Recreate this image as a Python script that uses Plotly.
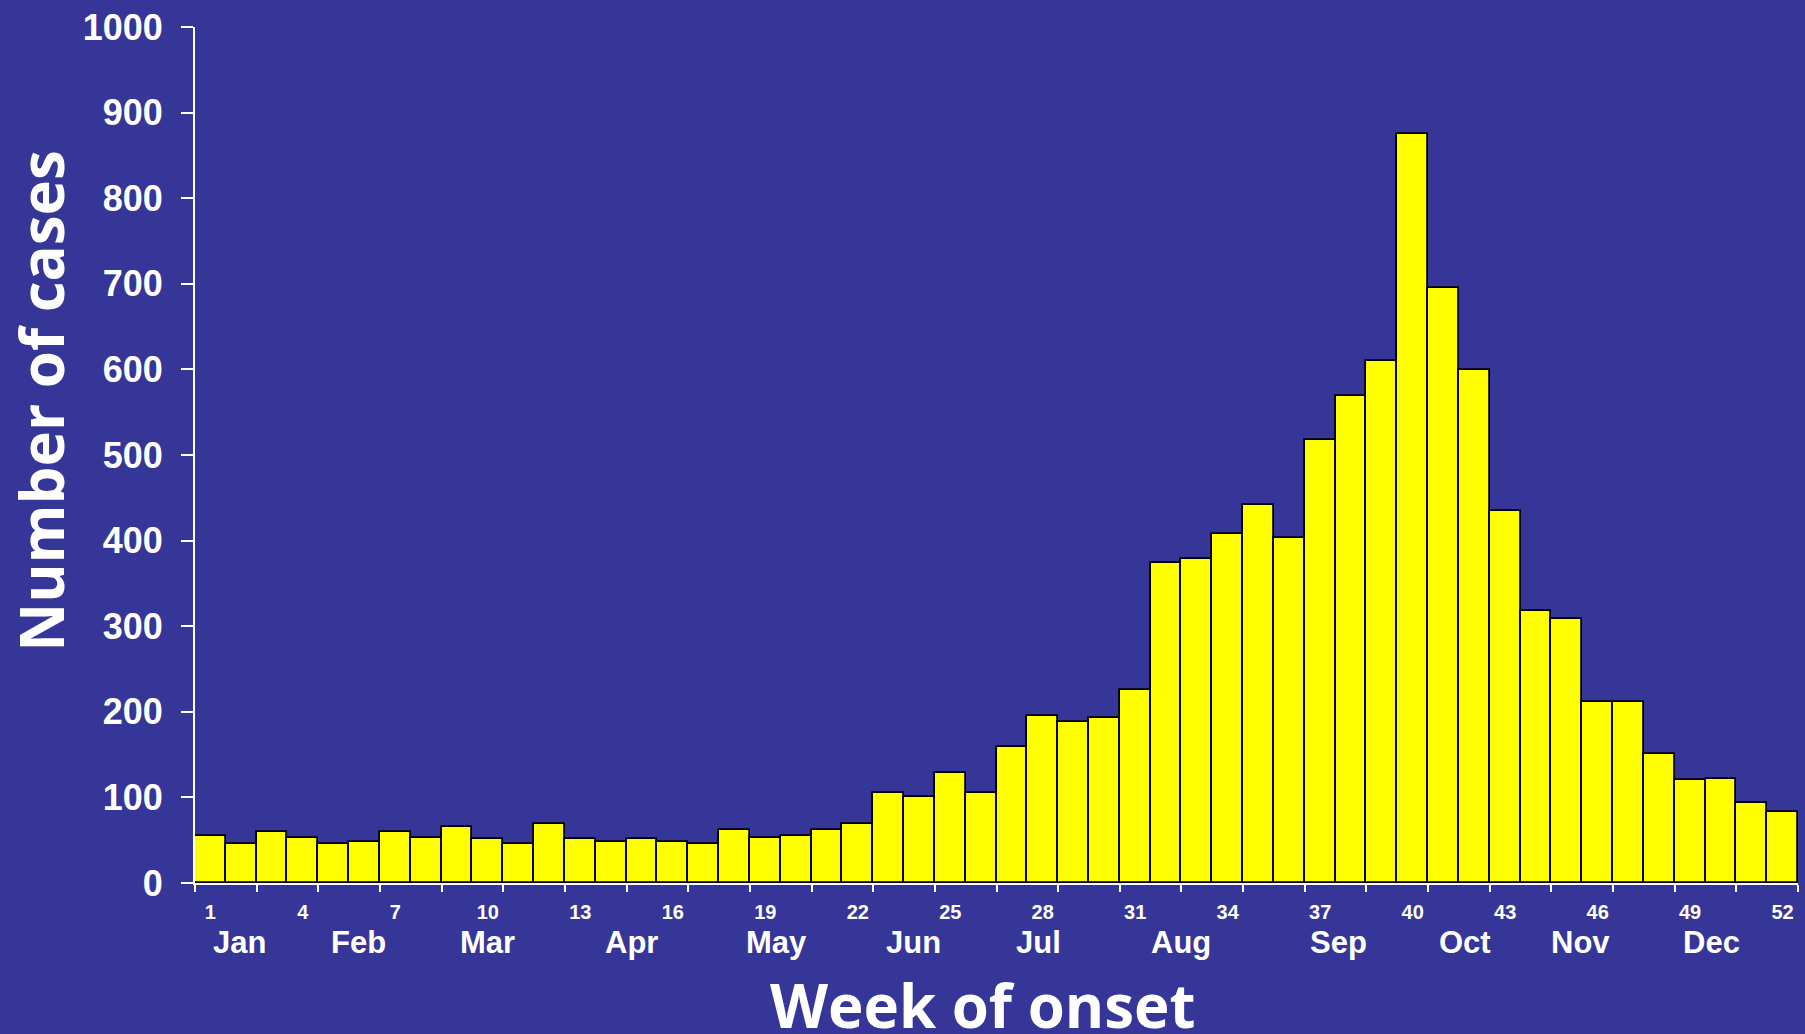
import plotly.graph_objects as go

weeks = list(range(1, 53))
cases = [55, 46, 60, 53, 46, 48, 60, 53, 65, 51, 46, 69, 51, 48, 51, 48, 46, 62, 53, 55,
         62, 69, 105, 101, 129, 105, 159, 195, 188, 193, 225, 374, 378, 408, 442, 403,
         518, 569, 610, 875, 695, 599, 435, 318, 308, 212, 212, 151, 120, 122, 94, 83]
week_labels = [1, 4, 7, 10, 13, 16, 19, 22, 25, 28, 31, 34, 37, 40, 43, 46, 49, 52]
months = ["Jan", "Feb", "Mar", "Apr", "May", "Jun", "Jul", "Aug", "Sep", "Oct", "Nov", "Dec"]
month_pos = [1.95, 5.8, 10.0, 14.65, 19.35, 23.8, 27.85, 32.5, 37.6, 41.7, 45.45, 49.7]
y_ticks = list(range(0, 1001, 100))

BG = "#363698"
tick_font = dict(family="Liberation Sans, Arial, sans-serif", color="white", weight="bold")

fig = go.Figure()
fig.add_trace(go.Bar(
    x=weeks, y=cases, width=1,
    marker=dict(color="#FFFF00", line=dict(color="black", width=1.8)),
    hoverinfo="x+y", showlegend=False,
))

boundaries = [w - 0.5 for w in weeks[::2]] + [weeks[-1] + 0.5]

fig.update_layout(
    width=1805, height=1034,
    paper_bgcolor=BG, plot_bgcolor=BG,
    margin=dict(l=195, r=7, t=25, b=151),
    bargap=0,
    xaxis=dict(
        range=[0.5, 52.5], showgrid=False, zeroline=False,
        showline=True, linecolor="white", linewidth=2,
        tickmode="array", tickvals=week_labels, ticktext=[str(w) for w in week_labels],
        ticks="", tickfont=dict(size=20, **tick_font), ticklabelstandoff=10,
        minor=dict(tickmode="array", tickvals=boundaries, ticks="outside",
                   ticklen=7, tickwidth=2, tickcolor="white", showgrid=False),
    ),
    yaxis=dict(
        range=[0, 1000], showgrid=False, zeroline=False,
        showline=True, linecolor="white", linewidth=2,
        tickmode="array", tickvals=y_ticks,
        ticks="outside", ticklen=12, tickwidth=2, tickcolor="white",
        tickfont=dict(size=36, **tick_font), ticklabelstandoff=11,
    ),
)

for m, p in zip(months, month_pos):
    fig.add_annotation(x=p, y=-0.069, xref="x", yref="paper", text=m, showarrow=False,
                       font=dict(size=31, **tick_font), xanchor="center", yanchor="middle")

fig.add_annotation(x=0.4915, y=-0.143, xref="paper", yref="paper", text="Week of onset",
                   showarrow=False, xanchor="center", yanchor="middle",
                   font=dict(family="Open Sans, sans-serif", size=60, color="white", weight="bold"))
fig.add_annotation(x=-0.0958, y=0.564, xref="paper", yref="paper", text="Number of cases",
                   showarrow=False, xanchor="center", yanchor="middle", textangle=-90,
                   font=dict(family="Open Sans, sans-serif", size=60, color="white", weight="bold"))

fig.write_html("out.html", config={"displayModeBar": False},
               post_script="document.body.style.margin='0';document.body.style.background='" + BG + "';")
